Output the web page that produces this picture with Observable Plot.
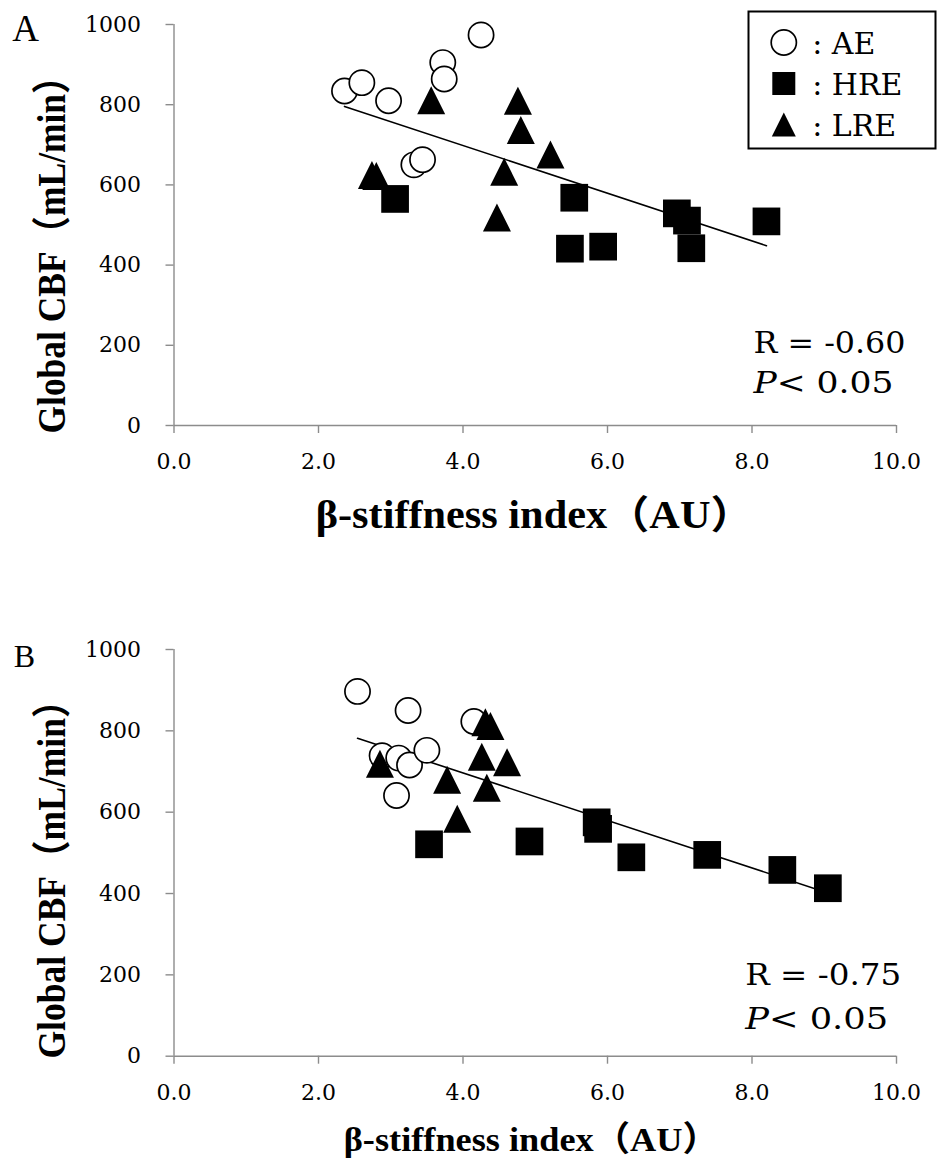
<!DOCTYPE html>
<html>
<head>
<meta charset="utf-8">
<script src="https://cdn.jsdelivr.net/npm/d3@7"></script>
<script src="https://cdn.jsdelivr.net/npm/@observablehq/plot@0.6"></script>
<style>
  body { margin: 0; background: #fff; }
  #fig { position: relative; width: 937px; height: 1160px; overflow: hidden; }
  #fig > .layer { position: absolute; }
</style>
</head>
<body>
<div id="fig"></div>
<script>
// ---- shared labels and ticks ----
const groups = ["AE", "HRE", "LRE"];
const xTicks = [0, 2, 4, 6, 8, 10];
const yTicks = [0, 200, 400, 600, 800, 1000];
const xTitle = "β-stiffness index（AU）";
const yTitle = "Global CBF（mL/min）";

// ---- panel A: β-stiffness index vs global CBF ----
const aeAx  = [2.36, 2.60, 2.97, 3.32, 3.44, 3.72, 3.74, 4.25];
const aeAy  = [834, 855, 810, 650, 663, 905, 864, 974];
const hreAx = [3.06, 5.48, 5.54, 5.94, 6.96, 7.10, 7.16, 8.20];
const hreAy = [565, 441, 568, 446, 529, 511, 442, 509];
const lreAx = [2.74, 2.80, 3.56, 4.47, 4.57, 4.76, 4.80, 5.21];
const lreAy = [625, 622, 811, 519, 633, 810, 737, 676];
const statsA = ["R = -0.60", "P< 0.05"];

// ---- panel B ----
const aeBx  = [2.54, 2.88, 3.08, 3.11, 3.24, 3.26, 3.50, 4.15];
const aeBy  = [897, 739, 641, 733, 850, 716, 752, 823];
const hreBx = [3.53, 4.92, 5.85, 5.87, 6.33, 7.38, 8.42, 9.05];
const hreBy = [521, 528, 575, 559, 489, 495, 458, 413];
const lreBx = [2.85, 3.78, 3.92, 4.26, 4.31, 4.33, 4.38, 4.61];
const lreBy = [719, 680, 584, 736, 821, 660, 812, 723];
const statsB = ["R = -0.75", "P< 0.05"];

// ---- styling ----
const serif = "'DejaVu Serif', serif";
const boldSerif = "'Liberation Serif', 'Times New Roman', 'Noto Sans CJK JP', serif";
const axisGray = "#8c8c8c";

// square and box-shaped triangle markers (r is half the side)
const squareMark = {
  draw(ctx, size) {
    const r = Math.sqrt(size / Math.PI);
    ctx.moveTo(-r, -r); ctx.lineTo(r, -r); ctx.lineTo(r, r); ctx.lineTo(-r, r); ctx.closePath();
  }
};
const triangleMark = {
  draw(ctx, size) {
    const r = Math.sqrt(size / Math.PI);
    ctx.moveTo(0, -r); ctx.lineTo(r, r); ctx.lineTo(-r, r); ctx.closePath();
  }
};

const points = (xs, ys, g) => xs.map((x, i) => ({x, y: ys[i], group: g}));

// stretch a text element to a given length
function fitText(svg, content, length) {
  for (const t of svg.querySelectorAll("text")) {
    if (t.textContent === content) {
      t.setAttribute("textLength", length);
      t.setAttribute("lengthAdjust", "spacingAndGlyphs");
    }
  }
}
// italic "P" in the significance line
function italicP(svg, content, length) {
  for (const t of svg.querySelectorAll("text")) {
    if (t.textContent === content) {
      t.textContent = "";
      const a = document.createElementNS("http://www.w3.org/2000/svg", "tspan");
      a.setAttribute("font-style", "italic");
      a.textContent = content.slice(0, 1);
      const b = document.createElementNS("http://www.w3.org/2000/svg", "tspan");
      b.textContent = content.slice(1);
      t.append(a, b);
      t.setAttribute("textLength", length);
      t.setAttribute("lengthAdjust", "spacingAndGlyphs");
    }
  }
}

function panel(o) {
  const ae = points(o.aeX, o.aeY, groups[0]);
  const hre = points(o.hreX, o.hreY, groups[1]);
  const lre = points(o.lreX, o.lreY, groups[2]);
  const all = [...ae, ...hre, ...lre];
  const svg = Plot.plot({
    width: 937,
    height: 580,
    marginTop: o.marginTop,
    marginBottom: o.marginBottom,
    marginLeft: 173.5,
    marginRight: 41,
    x: {domain: [0, 10]},
    y: {domain: [0, 1000]},
    style: {background: "transparent", overflow: "visible", fontFamily: serif, color: "black"},
    marks: [
      Plot.ruleX([0], {stroke: axisGray, strokeWidth: 1.4}),
      Plot.ruleY([0], {stroke: axisGray, strokeWidth: 1.4}),
      Plot.axisX({
        ticks: xTicks, tickFormat: d3.format(".1f"), tickSize: 8, tickPadding: 20,
        stroke: axisGray, strokeWidth: 1.4, fill: "black",
        fontSize: 22, fontFamily: serif, label: null
      }),
      Plot.axisY({
        ticks: yTicks, tickFormat: d3.format("d"), tickSize: 8, tickPadding: 25,
        stroke: axisGray, strokeWidth: 1.4, fill: "black",
        fontSize: 22, fontFamily: serif, label: null
      }),
      Plot.linearRegressionY(all, {x: "x", y: "y", ci: 0, stroke: "black", strokeWidth: 1.6}),
      Plot.dot(ae, {x: "x", y: "y", r: 12.6, fill: "white", stroke: "black", strokeWidth: 1.7}),
      Plot.dot(lre, {x: "x", y: "y", r: 14, symbol: triangleMark, fill: "black"}),
      Plot.dot(hre, {x: "x", y: "y", r: 13.85, symbol: squareMark, fill: "black"}),
      // statistics
      Plot.text([o.stats[0]], {
        text: d => d, frameAnchor: "bottom-right", textAnchor: "start", lineAnchor: "bottom",
        dx: o.statDx, dy: o.statDy[0], fontSize: o.statSize, fontFamily: serif, fill: "black"
      }),
      Plot.text([o.stats[1]], {
        text: d => d, frameAnchor: "bottom-right", textAnchor: "start", lineAnchor: "bottom",
        dx: o.statDx, dy: o.statDy[1], fontSize: o.statSize, fontFamily: serif, fill: "black"
      }),
      // axis titles
      Plot.text([xTitle], {
        text: d => d, frameAnchor: "bottom", textAnchor: "middle", lineAnchor: "bottom",
        dx: o.xTitleDx, dy: o.xTitleDy, fontSize: o.xTitleSize, fontWeight: "bold",
        fontFamily: boldSerif, fill: "black"
      }),
      Plot.text([yTitle], {
        text: d => d, frameAnchor: "left", textAnchor: "middle", lineAnchor: "bottom", rotate: -90,
        dx: -109.5, dy: o.yTitleDy, fontSize: 39, fontWeight: "bold",
        fontFamily: boldSerif, fill: "black"
      }),
      // panel letter
      Plot.text([o.letter], {
        text: d => d, frameAnchor: "top-left", textAnchor: "start", lineAnchor: "bottom",
        dx: o.letterDx, dy: o.letterDy, fontSize: o.letterSize,
        fontFamily: "'Liberation Serif', serif", fill: "black"
      })
    ]
  });
  fitText(svg, o.stats[0], o.statLen[0]);
  italicP(svg, o.stats[1], o.statLen[1]);
  fitText(svg, xTitle, o.xTitleLen);
  fitText(svg, yTitle, o.yTitleLen);
  return svg;
}

const fig = document.getElementById("fig");
function place(node, left, top) {
  node.classList.add("layer");
  node.style.left = left + "px";
  node.style.top = top + "px";
  fig.append(node);
}

place(panel({
  letter: "A", aeX: aeAx, aeY: aeAy, hreX: hreAx, hreY: hreAy, lreX: lreAx, lreY: lreAy,
  stats: statsA, marginTop: 24, marginBottom: 155,
  statDx: -143, statDy: [-73, -32.3], statSize: 29, statLen: [152, 140],
  xTitleDx: -1, xTitleDy: 102, xTitleSize: 39, xTitleLen: 437,
  yTitleDy: 21, yTitleLen: 375,
  letterDx: -161.8, letterDy: 16.7, letterSize: 37
}), 0, 0);

place(panel({
  letter: "B", aeX: aeBx, aeY: aeBy, hreX: hreBx, hreY: hreBy, lreX: lreBx, lreY: lreBy,
  stats: statsB, marginTop: 69, marginBottom: 104.3,
  statDx: -151.3, statDy: [-71.7, -27.4], statSize: 30, statLen: [156, 143],
  xTitleDx: -4, xTitleDy: 94.3, xTitleSize: 34.5, xTitleLen: 375,
  yTitleDy: 17.7, yTitleLen: 376,
  letterDx: -160.2, letterDy: 17.7, letterSize: 32
}), 0, 580);

// group key, boxed, at the upper right of panel A
const key = Plot.plot({
  width: 189,
  height: 139,
  margin: 1,
  y: {type: "point", domain: groups, range: [31.7, 115], padding: 0, axis: null},
  style: {background: "white", overflow: "visible", fontFamily: serif, color: "black"},
  marks: [
    Plot.frame({stroke: "black", strokeWidth: 2}),
    Plot.dot([groups[0]], {y: d => d, frameAnchor: "left", dx: 35.3, r: 12.6, fill: "white", stroke: "black", strokeWidth: 1.7}),
    Plot.dot([groups[1]], {y: d => d, frameAnchor: "left", dx: 35.3, r: 11.5, symbol: squareMark, fill: "black"}),
    Plot.dot([groups[2]], {y: d => d, frameAnchor: "left", dx: 35.3, r: 12, symbol: triangleMark, fill: "black"}),
    Plot.text(groups, {
      y: d => d, text: d => ": " + d, frameAnchor: "left", textAnchor: "start", lineAnchor: "bottom",
      dx: 63.7, dy: 11.6, fontSize: 30, fontFamily: serif, fill: "black"
    })
  ]
});
place(key, 747, 10);
</script>
</body>
</html>
